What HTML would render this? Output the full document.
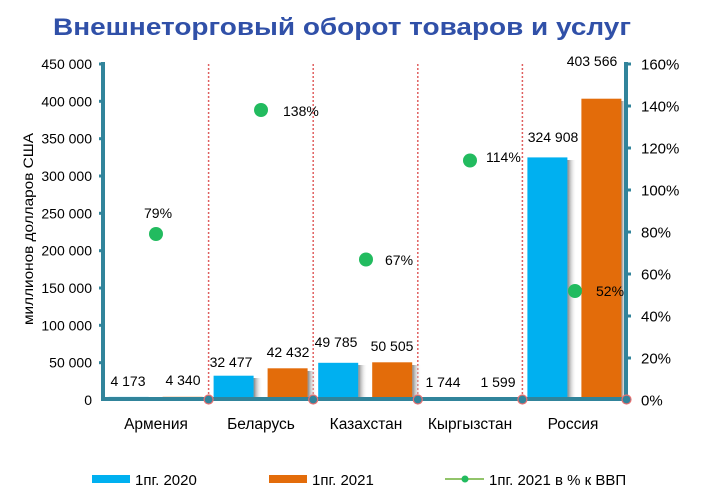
<!DOCTYPE html>
<html><head><meta charset="utf-8"><style>
html,body{margin:0;padding:0;background:#fff;}
svg{display:block;}
text{font-family:"Liberation Sans","DejaVu Sans",sans-serif;}
</style></head><body>
<svg width="706" height="492" viewBox="0 0 706 492" xmlns="http://www.w3.org/2000/svg">
<defs>
<linearGradient id="sh" x1="0" x2="1" y1="0" y2="0">
<stop offset="0" stop-color="#7a7a7a" stop-opacity="0.95"/>
<stop offset="1" stop-color="#ffffff" stop-opacity="0"/>
</linearGradient>
</defs>
<rect width="706" height="492" fill="#fff"/>
<text x="53" y="35" font-size="24" font-weight="bold" fill="#3050A8" textLength="578" lengthAdjust="spacingAndGlyphs">Внешнеторговый оборот товаров и услуг</text>

<!-- dotted dividers -->
<g stroke="#E06060" stroke-width="1.5" stroke-dasharray="2,2">
<line x1="208.6" y1="64" x2="208.6" y2="400"/>
<line x1="313.2" y1="64" x2="313.2" y2="400"/>
<line x1="417.8" y1="64" x2="417.8" y2="400"/>
<line x1="522.4" y1="64" x2="522.4" y2="400"/>
</g>

<!-- shadows -->
<g fill="url(#sh)">
<rect x="149" y="399" width="8" height="2"/>
<rect x="203" y="399" width="8" height="2"/>
<rect x="253.6" y="378" width="9" height="22"/>
<rect x="307.6" y="371" width="9" height="29"/>
<rect x="358.2" y="365" width="9" height="35"/>
<rect x="412.2" y="365" width="9" height="35"/>
<rect x="567.4" y="160" width="9" height="240"/>
<rect x="621.4" y="101" width="5" height="299"/>
</g>

<!-- bars -->
<g fill="#00B0F0">
<rect x="108.6" y="396.9" width="40" height="3.1"/>
<rect x="213.6" y="375.7" width="40" height="24.3"/>
<rect x="318.2" y="362.8" width="40" height="37.2"/>
<rect x="422.8" y="398.7" width="40" height="1.3"/>
<rect x="527.4" y="157.4" width="40" height="242.6"/>
</g>
<g fill="#E36C0A">
<rect x="162.6" y="396.8" width="40" height="3.2"/>
<rect x="267.6" y="368.3" width="40" height="31.7"/>
<rect x="372.2" y="362.3" width="40" height="37.7"/>
<rect x="476.8" y="398.8" width="40" height="1.2"/>
<rect x="581.4" y="98.7" width="40" height="301.3"/>
</g>

<!-- axes -->
<g stroke="#31849B">
<line x1="103" y1="62" x2="103" y2="401" stroke-width="4"/>
<line x1="626" y1="62" x2="626" y2="401" stroke-width="4"/>
<line x1="101" y1="399" x2="628" y2="399" stroke-width="4"/>
<g stroke-width="3">
<line x1="99" y1="64" x2="103" y2="64"/>
<line x1="99" y1="101.3" x2="103" y2="101.3"/>
<line x1="99" y1="138.7" x2="103" y2="138.7"/>
<line x1="99" y1="176" x2="103" y2="176"/>
<line x1="99" y1="213.3" x2="103" y2="213.3"/>
<line x1="99" y1="250.7" x2="103" y2="250.7"/>
<line x1="99" y1="288" x2="103" y2="288"/>
<line x1="99" y1="325.3" x2="103" y2="325.3"/>
<line x1="99" y1="362.7" x2="103" y2="362.7"/>
<line x1="626" y1="64" x2="631" y2="64"/>
<line x1="626" y1="106" x2="631" y2="106"/>
<line x1="626" y1="148" x2="631" y2="148"/>
<line x1="626" y1="190" x2="631" y2="190"/>
<line x1="626" y1="232" x2="631" y2="232"/>
<line x1="626" y1="274" x2="631" y2="274"/>
<line x1="626" y1="316" x2="631" y2="316"/>
<line x1="626" y1="358" x2="631" y2="358"/>
</g>
</g>
<g fill="#31849B" stroke="#E87070" stroke-width="1.2">
<circle cx="208.6" cy="399.5" r="4.5"/>
<circle cx="313.2" cy="399.5" r="4.5"/>
<circle cx="417.8" cy="399.5" r="4.5"/>
<circle cx="522.4" cy="399.5" r="4.5"/>
<circle cx="626.5" cy="399.5" r="4.5"/>
</g>

<!-- left tick labels -->
<g font-size="14" fill="#000" text-anchor="end">
<text x="92" y="69">450 000</text>
<text x="92" y="106.3">400 000</text>
<text x="92" y="143.7">350 000</text>
<text x="92" y="181">300 000</text>
<text x="92" y="218.3">250 000</text>
<text x="92" y="255.7">200 000</text>
<text x="92" y="293">150 000</text>
<text x="92" y="330.3">100 000</text>
<text x="92" y="367.7">50 000</text>
<text x="92" y="405">0</text>
</g>
<!-- right tick labels -->
<g font-size="15" fill="#000">
<text x="641" y="69.5">160%</text>
<text x="641" y="111.5">140%</text>
<text x="641" y="153.5">120%</text>
<text x="641" y="195.5">100%</text>
<text x="641" y="237.5">80%</text>
<text x="641" y="279.5">60%</text>
<text x="641" y="321.5">40%</text>
<text x="641" y="363.5">20%</text>
<text x="641" y="405.5">0%</text>
</g>

<text transform="translate(33,325) rotate(-90)" font-size="14" fill="#000" textLength="192" lengthAdjust="spacingAndGlyphs">миллионов долларов США</text>

<!-- data labels -->
<g font-size="14" fill="#000" text-anchor="middle">
<text x="128" y="386">4 173</text>
<text x="183" y="385">4 340</text>
<text x="231" y="367">32 477</text>
<text x="288" y="357">42 432</text>
<text x="336" y="347">49 785</text>
<text x="392" y="351">50 505</text>
<text x="443" y="387">1 744</text>
<text x="498" y="387">1 599</text>
<text x="553" y="142">324 908</text>
<text x="592" y="66">403 566</text>
</g>

<!-- percent dots -->
<g fill="#22BB5F">
<circle cx="156" cy="234" r="7"/>
<circle cx="261" cy="110" r="7"/>
<circle cx="366" cy="259.5" r="7"/>
<circle cx="470" cy="160.5" r="7"/>
<circle cx="575" cy="291" r="7"/>
</g>
<g font-size="14" fill="#000">
<text x="144" y="218">79%</text>
<text x="283" y="116">138%</text>
<text x="385" y="265">67%</text>
<text x="486" y="162">114%</text>
<text x="596" y="296">52%</text>
</g>

<!-- categories -->
<g font-size="15.5" fill="#000" text-anchor="middle">
<text x="156" y="429">Армения</text>
<text x="261" y="429">Беларусь</text>
<text x="366" y="429">Казахстан</text>
<text x="470" y="429">Кыргызстан</text>
<text x="573" y="429">Россия</text>
</g>

<!-- legend -->
<rect x="92" y="475" width="38" height="8" fill="#00B0F0"/>
<text x="135" y="485" font-size="15" fill="#000">1пг. 2020</text>
<rect x="269" y="475" width="38" height="8" fill="#E36C0A"/>
<text x="312" y="485" font-size="15" fill="#000">1пг. 2021</text>
<line x1="445" y1="479" x2="484" y2="479" stroke="#92C46A" stroke-width="2"/>
<circle cx="465" cy="479" r="3.5" fill="#22BB5F"/>
<text x="489" y="485" font-size="15" fill="#000">1пг. 2021 в % к ВВП</text>
</svg>
</body></html>
